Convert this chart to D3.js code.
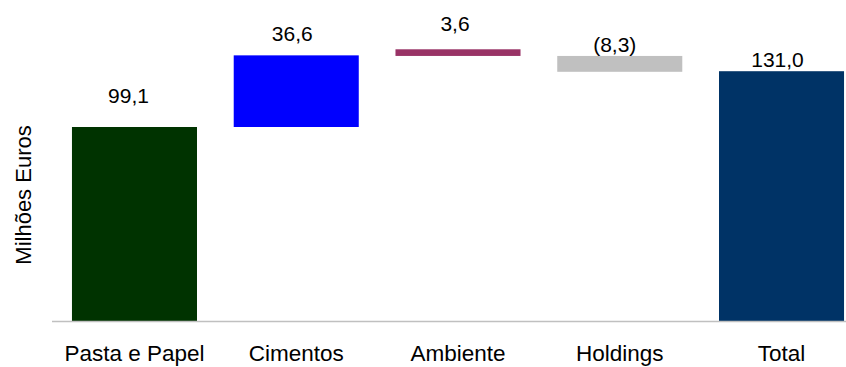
<!DOCTYPE html>
<html>
<head>
<meta charset="utf-8">
<script src="https://cdn.jsdelivr.net/npm/d3@7"></script>
<style>
  html, body { margin: 0; padding: 0; background: #fff; }
  svg { display: block; font-family: "Liberation Sans", Arial, sans-serif; }
</style>
</head>
<body>
<svg id="chart" width="846" height="367"></svg>
<script>
// ---- data ----
const categories = ["Pasta e Papel", "Cimentos", "Ambiente", "Holdings", "Total"];
const valueLabels = ["99,1", "36,6", "3,6", "(8,3)", "131,0"];
const barStart = [0, 99.1, 135.4, 135.4, 0];
const barEnd = [99.1, 135.7, 138.8, 127.3, 127.6];
const barColors = ["#003300", "#0000FF", "#993366", "#C0C0C0", "#003366"];
const yTitle = "Milhões Euros";

// ---- layout ----
const W = 846, H = 367;
const baseY = 321;
const pxPerUnit = 1.9576;
const labelGap = [24, 14, 18, 4, 4];   // px between bar top and label baseline
const labelShift = [-6, -4, -3, -5, -4]; // px horizontal nudge of value labels

const svg = d3.select("#chart");

const x = d3.scaleBand()
  .domain(categories)
  .range([53.6, 862.4])
  .paddingInner(0.227)
  .paddingOuter(0.1135);

const y = d3.scaleLinear()
  .domain([0, 100])
  .range([baseY, baseY - 100 * pxPerUnit]);

const rows = categories.map((c, i) => ({
  cat: c, s: barStart[i], e: barEnd[i], color: barColors[i],
  label: valueLabels[i], gap: labelGap[i], shift: labelShift[i]
}));

// bars
svg.append("g").selectAll("rect")
  .data(rows)
  .join("rect")
  .attr("x", d => x(d.cat))
  .attr("width", x.bandwidth())
  .attr("y", d => y(Math.max(d.s, d.e)))
  .attr("height", d => Math.abs(y(d.s) - y(d.e)))
  .attr("fill", d => d.color);

// value labels
svg.append("g").selectAll("text")
  .data(rows)
  .join("text")
  .attr("x", d => x(d.cat) + x.bandwidth() / 2 + d.shift)
  .attr("y", d => y(Math.max(d.s, d.e)) - d.gap)
  .attr("text-anchor", "middle")
  .attr("font-size", 21)
  .attr("fill", "#000")
  .text(d => d.label);

// x axis
const xAxis = d3.axisBottom(x).tickSize(0).tickPadding(0);
const gx = svg.append("g")
  .attr("transform", `translate(0,${baseY})`)
  .call(xAxis);
gx.select(".domain").remove();
gx.append("line")
  .attr("x1", 52).attr("x2", W)
  .attr("y1", 0.5).attr("y2", 0.5)
  .attr("stroke", "#c0c0c0").attr("stroke-width", 1.5);
gx.selectAll(".tick text")
  .attr("font-family", "\"Liberation Sans\", Arial, sans-serif")
  .attr("font-size", 22.5)
  .attr("fill", "#000")
  .attr("dy", null)
  .attr("y", 40);

// y title
svg.append("text")
  .attr("transform", `translate(31,${195}) rotate(-90)`)
  .attr("text-anchor", "middle")
  .attr("font-size", 22)
  .attr("fill", "#000")
  .text(yTitle);
</script>
</body>
</html>
